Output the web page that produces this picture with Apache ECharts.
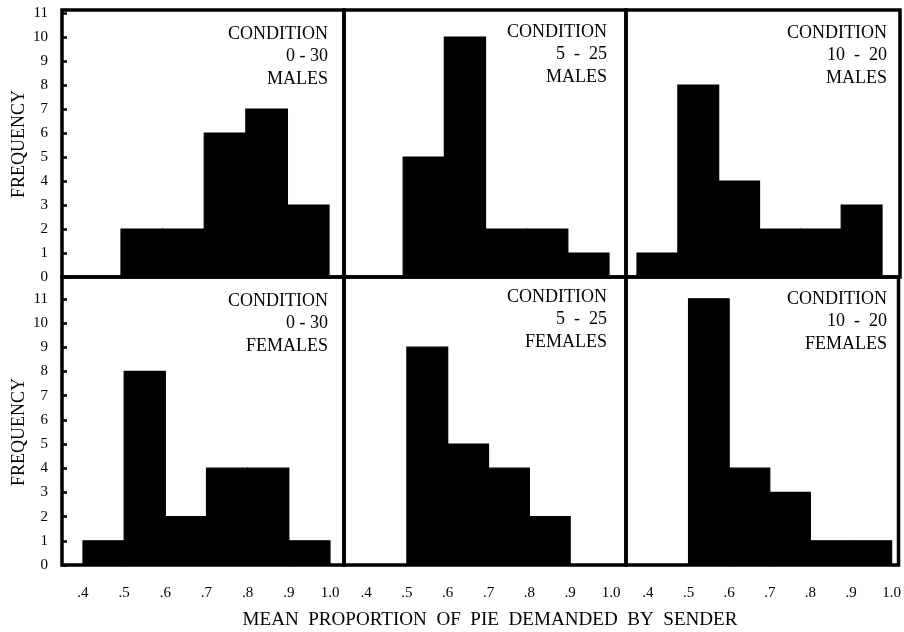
<!DOCTYPE html>
<html>
<head>
<meta charset="utf-8">
<script src="https://cdn.jsdelivr.net/npm/echarts@6/dist/echarts.min.js"></script>
<style>
html,body{margin:0;padding:0;background:#fff;}
#chart{width:904px;height:632px;}
</style>
</head>
<body>
<div id="chart"></div>
<script>
// ---- data ----
const binStarts = [0.4, 0.5, 0.6, 0.7, 0.8, 0.9];
const binWidth = 0.1;
const males_0_30   = [0, 2, 2, 6, 7, 3];
const males_5_25   = [0, 5, 10, 2, 2, 1];
const males_10_20  = [1, 8, 4, 2, 2, 3];
const females_0_30  = [1, 8, 2, 4, 4, 1];
const females_5_25  = [0, 9, 5, 4, 2, 0];
const females_10_20 = [0, 11, 4, 3, 1, 1];
const conditions = ['0 - 30', '5  -  25', '10  -  20'];
const sexes = ['MALES', 'FEMALES'];
const xTickValues = [0.4, 0.5, 0.6, 0.7, 0.8, 0.9, 1.0];
const xTickLabels = ['.4', '.5', '.6', '.7', '.8', '.9', '1.0'];
const yTickMax = 11;
const yAxisTitle = 'FREQUENCY';
const xAxisTitle = 'MEAN  PROPORTION  OF  PIE  DEMANDED  BY  SENDER';
const panelSeries = [males_0_30, males_5_25, males_10_20, females_0_30, females_5_25, females_10_20];

// ---- layout ----
const cols = [{left: 62, width: 282}, {left: 344, width: 282}, {left: 626, width: 274}];
const rows = [{top: 10, height: 267, ymax: 11.125}, {top: 277, height: 288, ymax: 11.9}];
const xRanges = [
  [0.3582, 1.036], [0.3563, 1.0413], [0.373, 1.044],
  [0.349, 1.034], [0.346, 1.0367], [0.346, 1.017]
];
const labelRight = [328, 607, 887];
const labelTop = [[34, 32, 33], [301, 297, 299]];

const FONT = 'Liberation Serif';
const grids = [], xAxes = [], yAxes = [], series = [], graphics = [];

for (let r = 0; r < 2; r++) {
  for (let c = 0; c < 3; c++) {
    const i = r * 3 + c;
    grids.push({
      left: cols[c].left, top: rows[r].top, width: cols[c].width, height: rows[r].height,
      show: true, borderColor: '#000', borderWidth: 3.5, backgroundColor: 'transparent'
    });
    xAxes.push({
      type: 'value', gridIndex: i, min: xRanges[i][0], max: xRanges[i][1],
      axisLine: {show: false}, axisTick: {show: false}, splitLine: {show: false},
      axisLabel: {
        show: r === 1, customValues: xTickValues, margin: 21,
        color: '#000', fontFamily: FONT, fontSize: 15,
        formatter: v => xTickLabels[Math.round(v * 10) - 4] || ''
      }
    });
    yAxes.push({
      type: 'value', gridIndex: i, min: 0, max: rows[r].ymax, interval: 1,
      axisLine: {show: false}, splitLine: {show: false},
      axisTick: {show: c === 0, inside: true, length: 5, lineStyle: {color: '#000', width: 2.5}},
      axisLabel: {
        show: c === 0, margin: 14, color: '#000', fontFamily: FONT, fontSize: 15,
        showMaxLabel: false,
        formatter: v => (Number.isInteger(v) && v <= yTickMax) ? String(v) : ''
      }
    });
    const vals = panelSeries[i];
    series.push({
      type: 'custom', xAxisIndex: i, yAxisIndex: i,
      data: binStarts.map((s, k) => [s, s + binWidth, vals[k]]),
      renderItem: function (params, api) {
        const p0 = api.coord([api.value(0), 0]);
        const p1 = api.coord([api.value(1), api.value(2)]);
        return {
          type: 'rect',
          shape: {x: p0[0], y: p1[1], width: p1[0] - p0[0], height: p0[1] - p1[1]},
          style: {fill: '#000', stroke: '#000', lineWidth: 1.2}
        };
      }
    });
    graphics.push({
      type: 'text', x: labelRight[c], y: labelTop[r][c] - 11,
      style: {
        text: 'CONDITION\n' + conditions[c] + '\n' + sexes[r],
        textAlign: 'right', textVerticalAlign: 'top', verticalAlign: 'top',
        font: '18px "' + FONT + '"', fill: '#000', lineHeight: 22.5
      }
    });
  }
}

[144, 432].forEach(yc => {
  graphics.push({
    type: 'text', x: 19, y: yc, rotation: Math.PI / 2,
    style: {text: yAxisTitle, textAlign: 'center', textVerticalAlign: 'middle', verticalAlign: 'middle',
      font: '18px "' + FONT + '"', fill: '#000'}
  });
});
graphics.push({
  type: 'text', x: 490, y: 620, scaleX: 1.06,
  style: {text: xAxisTitle, textAlign: 'center', textVerticalAlign: 'middle', verticalAlign: 'middle',
    font: '18px "' + FONT + '"', fill: '#000'}
});

const chart = echarts.init(document.getElementById('chart'), null, {renderer: 'canvas'});
chart.setOption({
  animation: false,
  backgroundColor: '#fff',
  grid: grids, xAxis: xAxes, yAxis: yAxes, series: series, graphic: graphics
});
</script>
</body>
</html>
